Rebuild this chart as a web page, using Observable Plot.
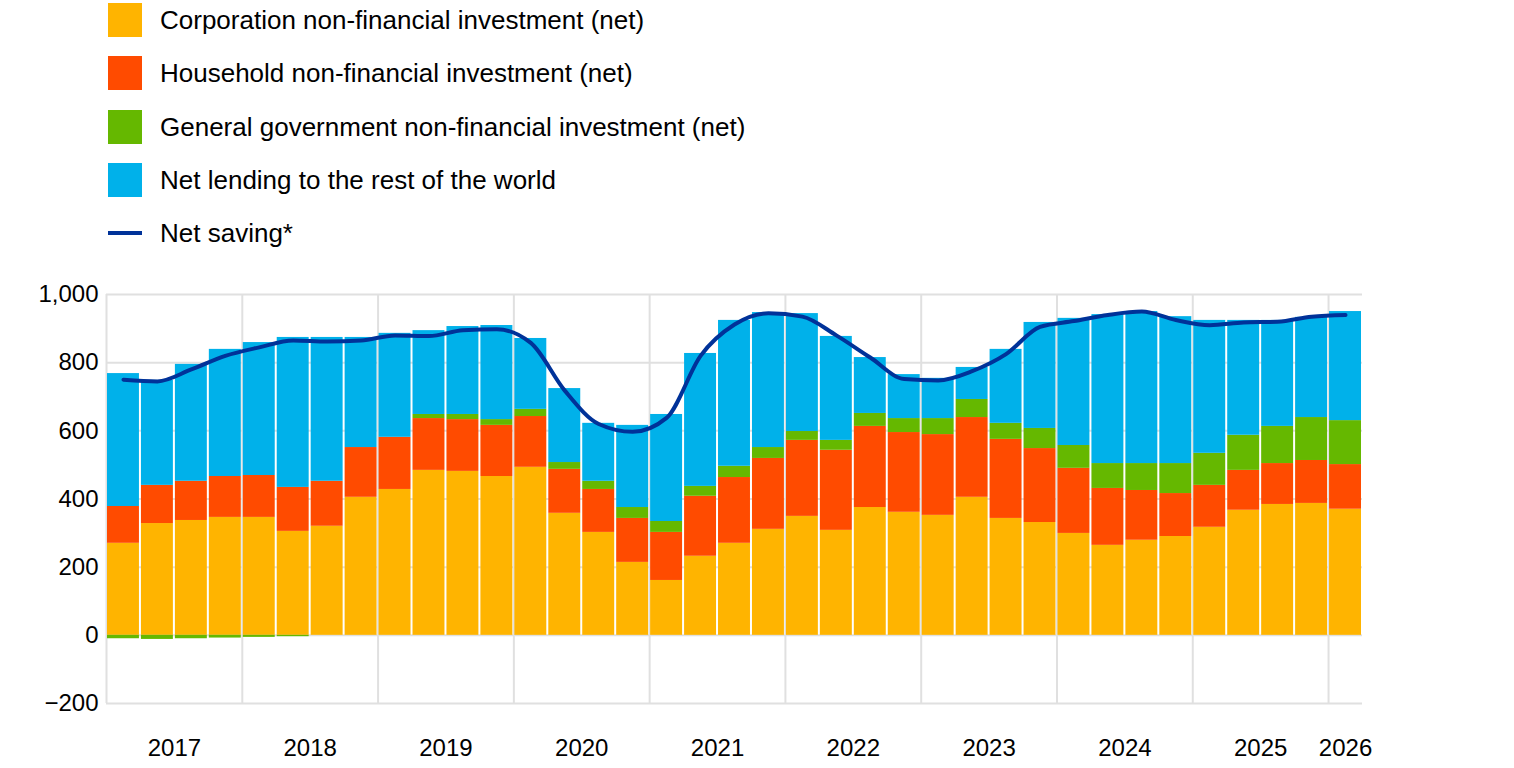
<!DOCTYPE html>
<html><head><meta charset="utf-8">
<script src="https://cdn.jsdelivr.net/npm/d3@7"></script>
<script src="https://cdn.jsdelivr.net/npm/@observablehq/plot@0.6"></script>
<style>
body{margin:0;background:#fff;font-family:"Liberation Sans",Arial,sans-serif;}
#legend{height:270px;position:relative;}
.item{position:absolute;left:108px;display:flex;align-items:center;font-size:26px;color:#000;}
.sw{width:34px;height:34px;margin-right:18px;}
.ln{width:34px;height:4px;margin-right:18px;}
</style></head><body>
<div id="legend"></div>
<div id="chart"></div>
<script>
const years = ["2017","2018","2019","2020","2021","2022","2023","2024","2025","2026"];
const corp = [270,328,337,346,346,305,320,405,428,484,481,466,493,358,302,214,161,232,270,311,349,308,375,361,352,405,343,331,299,264,279,290,317,367,384,387,370];
const hhTop = [378,440,452,466,469,434,452,551,581,636,633,616,642,487,428,343,302,408,463,519,572,543,613,595,589,639,575,548,490,431,425,416,440,484,504,513,501];
const gov = [-10,-12,-10,-8,-6,-4,0,0,0,12,15,17,21,20,24,32,32,29,33,32,26,29,38,41,47,53,47,59,67,73,79,88,94,103,109,126,129];
const total = [768,748,795,839,859,874,874,874,886,894,906,909,871,724,622,616,648,827,924,947,944,877,815,765,754,786,839,918,930,941,950,935,924,924,924,933,950];
const saving = [750,745,780,820,845,865,862,865,880,878,895,898,858,718,620,597,638,820,912,945,935,880,815,752,748,775,825,905,922,940,950,925,910,918,920,935,940];

const series = [
  {name:"Corporation non-financial investment (net)", color:"#ffb400"},
  {name:"Household non-financial investment (net)", color:"#ff4b00"},
  {name:"General government non-financial investment (net)", color:"#65b800"},
  {name:"Net lending to the rest of the world", color:"#00b1ea"}
];
const rows = [];
corp.forEach((c,i)=>{
  const hh = hhTop[i]-c;
  const lend = total[i]-hhTop[i]-Math.max(gov[i],0);
  [c,hh,gov[i],lend].forEach((v,k)=>rows.push({t:i,s:series[k].name,k,v}));
});
const lineData = saving.map((v,i)=>({t:i+0.5,v}));

const leg = document.getElementById("legend");
const ys=[20,73,127,180];
series.forEach((s,k)=>{
  const d=document.createElement("div");d.className="item";d.style.top=(ys[k]-17)+"px";
  d.innerHTML=`<div class="sw" style="background:${s.color}"></div>${s.name}`;leg.appendChild(d);
});
const d=document.createElement("div");d.className="item";d.style.top=(233-17)+"px";d.style.height="34px";
d.innerHTML=`<div class="ln" style="background:#003299"></div>Net saving*`;leg.appendChild(d);

const yearTicks = years.map((y,i)=>({x: i<9 ? i*4+2 : 36.5, y}));
const chart = Plot.plot({
  width:1514, height:498, marginTop:24, marginBottom:65, marginLeft:106, marginRight:152,
  style:{fontFamily:"Liberation Sans, Arial, sans-serif", fontSize:"24px", color:"#000"},
  x:{domain:[0,37], axis:null},
  y:{domain:[-200,1000], ticks:[-200,0,200,400,600,800,1000], label:null, tickSize:0, tickPadding:8},
  color:{domain:series.map(s=>s.name), range:series.map(s=>s.color)},
  marks:[
    Plot.gridY([-200,0,200,400,600,800,1000],{stroke:"#e0e0e0", strokeOpacity:1, strokeWidth:2}),
    Plot.gridX(d3.range(0,37,4),{stroke:"#e0e0e0", strokeOpacity:1, strokeWidth:2}),
    Plot.rectY(rows, Plot.stackY({x:"t", interval:1, y:"v", z:"k", order:"k", fill:"s", insetLeft:1, insetRight:1})),
    Plot.line(lineData,{x:"t", y:"v", stroke:"#003299", strokeWidth:4, curve:"monotone-x"}),
    Plot.axisY({ticks:[-200,0,200,400,600,800,1000], tickSize:0, tickPadding:8, label:null, fontSize:24}),
    Plot.text(yearTicks,{x:"x", y:-200, text:"y", dy:45, fontSize:24, fill:"#000"})
  ]
});
document.getElementById("chart").appendChild(chart);
</script></body></html>
